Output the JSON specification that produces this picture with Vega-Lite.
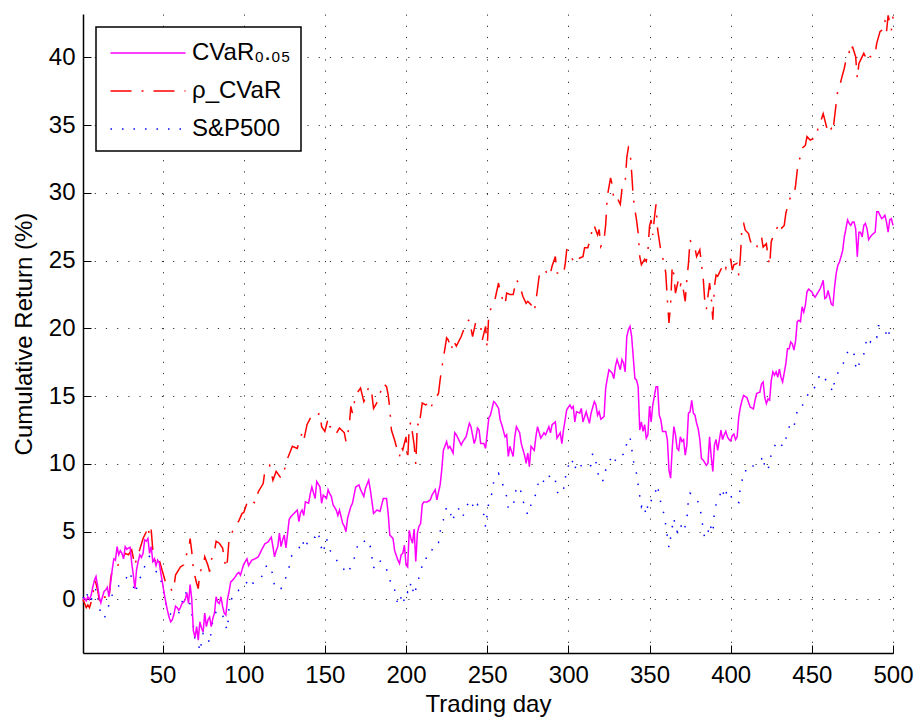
{
"$schema": "https://vega.github.io/schema/vega-lite/v6.json",
"width": 810, "height": 639,
"autosize": "none",
"padding": {"left": 83, "top": 14, "right": 27, "bottom": 69},
"background": "white",
"datasets": {
"cvar": [
{"d":1,"v":0},{"d":2,"v":0.1},{"d":3,"v":-0.1},{"d":4,"v":0.2},{"d":5,"v":0},{"d":6,"v":0.3},{"d":7,"v":0.9},{"d":8,"v":1.4},{"d":9,"v":1.7},{"d":10,"v":1.0},{"d":11,"v":0.2},{"d":12,"v":-0.25},{"d":13,"v":0.2},{"d":14,"v":0.6},{"d":15,"v":0.7},{"d":16,"v":0.9},{"d":17,"v":0.2},{"d":18,"v":1.2},{"d":19,"v":2.2},{"d":20,"v":3.0},{"d":21,"v":2.9},{"d":22,"v":3.9},{"d":23,"v":3.3},{"d":24,"v":3.6},{"d":25,"v":3.4},{"d":26,"v":3.0},{"d":27,"v":3.9},{"d":28,"v":3.7},{"d":29,"v":3.8},{"d":30,"v":3.85},{"d":31,"v":2.7},{"d":32,"v":1.8},{"d":33,"v":0.8},{"d":34,"v":2.2},{"d":35,"v":2.8},{"d":36,"v":3.3},{"d":37,"v":3.1},{"d":38,"v":3.4},{"d":39,"v":4.4},{"d":40,"v":4.3},{"d":41,"v":4.5},{"d":42,"v":3.4},{"d":43,"v":3.9},{"d":44,"v":2.8},{"d":45,"v":3.0},{"d":46,"v":2.5},{"d":47,"v":2.9},{"d":48,"v":2.7},{"d":49,"v":1.9},{"d":50,"v":1.2},{"d":51,"v":0.45},{"d":52,"v":-0.2},{"d":53,"v":-0.8},{"d":54,"v":-1.3},{"d":55,"v":-1.65},{"d":56,"v":-1.5},{"d":57,"v":-1.1},{"d":58,"v":-0.5},{"d":59,"v":-0.6},{"d":60,"v":-0.8},{"d":61,"v":-0.6},{"d":62,"v":-0.3},{"d":63,"v":-0.2},{"d":64,"v":0},{"d":65,"v":0.5},{"d":66,"v":-0.3},{"d":67,"v":1.1},{"d":68,"v":0},{"d":69,"v":-2.3},{"d":70,"v":-2.8},{"d":71,"v":-2.0},{"d":72,"v":-3.0},{"d":73,"v":-1.65},{"d":74,"v":-2.1},{"d":75,"v":-2.4},{"d":76,"v":-1.0},{"d":77,"v":-2.0},{"d":78,"v":-1.5},{"d":79,"v":-1.3},{"d":80,"v":-2.0},{"d":81,"v":-1.4},{"d":82,"v":-1.0},{"d":83,"v":0.2},{"d":84,"v":-0.2},{"d":85,"v":-0.3},{"d":86,"v":0.2},{"d":87,"v":-0.5},{"d":88,"v":-1.0},{"d":89,"v":-1.15},{"d":90,"v":0},{"d":91,"v":0.6},{"d":92,"v":1.3},{"d":93,"v":1.4},{"d":94,"v":1.55},{"d":95,"v":1.7},{"d":96,"v":1.9},{"d":97,"v":2.0},{"d":98,"v":1.8},{"d":99,"v":2.2},{"d":100,"v":2.6},{"d":101,"v":2.8},{"d":102,"v":3.0},{"d":103,"v":2.5},{"d":105,"v":2.9},{"d":107,"v":3.0},{"d":109,"v":3.15},{"d":111,"v":3.65},{"d":113,"v":4.1},{"d":115,"v":4.25},{"d":117,"v":4.6},{"d":118,"v":3.9},{"d":119,"v":3.15},{"d":120,"v":3.6},{"d":121,"v":3.9},{"d":122,"v":4.9},{"d":123,"v":3.9},{"d":124,"v":4.4},{"d":125,"v":4.75},{"d":126,"v":3.8},{"d":127,"v":4.8},{"d":128,"v":5.9},{"d":129,"v":6.1},{"d":131,"v":6.35},{"d":133,"v":6.6},{"d":134,"v":5.75},{"d":135,"v":6.4},{"d":136,"v":6.6},{"d":137,"v":6.2},{"d":138,"v":7.2},{"d":140,"v":7.1},{"d":141,"v":7.8},{"d":142,"v":8.3},{"d":144,"v":7.45},{"d":145,"v":8.7},{"d":146,"v":8.5},{"d":147,"v":8.3},{"d":148,"v":7.1},{"d":149,"v":7.7},{"d":151,"v":7.45},{"d":152,"v":8.1},{"d":153,"v":7.8},{"d":154,"v":7.6},{"d":155,"v":7.0},{"d":157,"v":6.6},{"d":158,"v":6.2},{"d":159,"v":6.6},{"d":161,"v":5.6},{"d":162,"v":5.4},{"d":163,"v":5.0},{"d":164,"v":6.0},{"d":166,"v":6.85},{"d":167,"v":7.1},{"d":169,"v":8.3},{"d":171,"v":8.45},{"d":172,"v":8.1},{"d":174,"v":7.6},{"d":175,"v":8.2},{"d":177,"v":8.8},{"d":178,"v":8.1},{"d":180,"v":6.35},{"d":182,"v":6.6},{"d":184,"v":6.5},{"d":186,"v":7.45},{"d":188,"v":7.45},{"d":189,"v":6.35},{"d":190,"v":4.75},{"d":192,"v":4.5},{"d":193,"v":3.6},{"d":195,"v":2.9},{"d":196,"v":2.65},{"d":197,"v":3.3},{"d":198,"v":3.4},{"d":199,"v":4.0},{"d":200,"v":2.55},{"d":201,"v":2.4},{"d":202,"v":5.1},{"d":203,"v":4.5},{"d":204,"v":4.15},{"d":205,"v":5.2},{"d":206,"v":2.8},{"d":207,"v":4.9},{"d":208,"v":5.4},{"d":209,"v":5.6},{"d":210,"v":7.0},{"d":211,"v":7.2},{"d":213,"v":7.2},{"d":215,"v":7.35},{"d":216,"v":7.7},{"d":218,"v":8.1},{"d":219,"v":7.35},{"d":221,"v":8.45},{"d":222,"v":9.55},{"d":223,"v":11.0},{"d":225,"v":11.65},{"d":226,"v":11.15},{"d":227,"v":11.3},{"d":229,"v":10.8},{"d":230,"v":12.3},{"d":231,"v":12.15},{"d":233,"v":11.65},{"d":234,"v":11.4},{"d":235,"v":11.65},{"d":237,"v":12.0},{"d":239,"v":13.0},{"d":240,"v":12.75},{"d":242,"v":11.5},{"d":243,"v":11.9},{"d":244,"v":12.65},{"d":245,"v":12.5},{"d":246,"v":11.5},{"d":248,"v":11.5},{"d":249,"v":11.15},{"d":251,"v":13.4},{"d":252,"v":13.6},{"d":254,"v":14.6},{"d":255,"v":14.5},{"d":257,"v":14.1},{"d":258,"v":13.25},{"d":259,"v":12.9},{"d":261,"v":12.0},{"d":262,"v":12.15},{"d":263,"v":10.55},{"d":264,"v":11.3},{"d":266,"v":10.55},{"d":267,"v":12.0},{"d":268,"v":12.75},{"d":270,"v":12.3},{"d":271,"v":11.5},{"d":273,"v":10.65},{"d":274,"v":10.05},{"d":275,"v":10.8},{"d":276,"v":9.8},{"d":277,"v":11.3},{"d":279,"v":11.0},{"d":280,"v":12.0},{"d":281,"v":12.75},{"d":283,"v":11.9},{"d":285,"v":12.3},{"d":286,"v":12.15},{"d":288,"v":12.75},{"d":289,"v":12.3},{"d":290,"v":12.9},{"d":292,"v":13.1},{"d":293,"v":11.9},{"d":295,"v":12.3},{"d":296,"v":11.5},{"d":297,"v":12.5},{"d":299,"v":14.0},{"d":301,"v":14.35},{"d":302,"v":14.1},{"d":303,"v":14.25},{"d":304,"v":13.1},{"d":305,"v":13.85},{"d":307,"v":13.75},{"d":308,"v":14.1},{"d":309,"v":13.1},{"d":311,"v":13.85},{"d":312,"v":13.4},{"d":313,"v":13.0},{"d":314,"v":13.75},{"d":316,"v":14.6},{"d":317,"v":14.35},{"d":318,"v":13.6},{"d":319,"v":13.85},{"d":320,"v":13.3},{"d":322,"v":13.5},{"d":323,"v":15.6},{"d":324,"v":16.3},{"d":325,"v":16.95},{"d":327,"v":16.7},{"d":328,"v":16.3},{"d":329,"v":17.2},{"d":330,"v":17.7},{"d":332,"v":16.95},{"d":333,"v":17.7},{"d":334,"v":17.45},{"d":335,"v":16.8},{"d":336,"v":19.4},{"d":337,"v":19.9},{"d":338,"v":20.15},{"d":339,"v":19.4},{"d":341,"v":16.3},{"d":342,"v":16.2},{"d":343,"v":15.7},{"d":344,"v":12.5},{"d":345,"v":13.1},{"d":346,"v":12.4},{"d":347,"v":12.9},{"d":348,"v":11.9},{"d":349,"v":12.15},{"d":350,"v":14.25},{"d":351,"v":13.1},{"d":352,"v":14.35},{"d":353,"v":15.0},{"d":354,"v":15.7},{"d":355,"v":15.7},{"d":356,"v":13.6},{"d":357,"v":13.25},{"d":358,"v":12.4},{"d":360,"v":12.4},{"d":361,"v":11.8},{"d":362,"v":9.55},{"d":363,"v":8.95},{"d":364,"v":11.15},{"d":365,"v":12.75},{"d":366,"v":12.15},{"d":367,"v":11.15},{"d":368,"v":11.0},{"d":369,"v":12.0},{"d":370,"v":11.65},{"d":371,"v":11.8},{"d":372,"v":10.65},{"d":373,"v":11.4},{"d":374,"v":13.75},{"d":375,"v":13.85},{"d":376,"v":14.7},{"d":377,"v":13.75},{"d":378,"v":13.6},{"d":379,"v":13.0},{"d":380,"v":12.6},{"d":381,"v":11.8},{"d":382,"v":10.4},{"d":383,"v":10.3},{"d":385,"v":9.9},{"d":386,"v":10.05},{"d":387,"v":12.0},{"d":388,"v":10.55},{"d":389,"v":9.45},{"d":390,"v":11.4},{"d":391,"v":11.8},{"d":392,"v":11.0},{"d":394,"v":12.5},{"d":395,"v":11.8},{"d":396,"v":12.15},{"d":397,"v":12.4},{"d":398,"v":12.0},{"d":399,"v":11.8},{"d":400,"v":11.7},{"d":401,"v":12.1},{"d":402,"v":12.2},{"d":403,"v":11.8},{"d":404,"v":12.0},{"d":405,"v":13.5},{"d":406,"v":14.2},{"d":407,"v":14.7},{"d":408,"v":15.05},{"d":410,"v":14.9},{"d":411,"v":14.55},{"d":412,"v":14.2},{"d":414,"v":14.05},{"d":415,"v":14.7},{"d":416,"v":15.2},{"d":418,"v":15.3},{"d":419,"v":15.9},{"d":420,"v":16.05},{"d":421,"v":14.9},{"d":422,"v":14.45},{"d":423,"v":14.8},{"d":424,"v":14.7},{"d":425,"v":16.15},{"d":426,"v":16.8},{"d":427,"v":16.55},{"d":428,"v":16.8},{"d":429,"v":16.4},{"d":430,"v":17.0},{"d":431,"v":16.4},{"d":432,"v":16.05},{"d":434,"v":17.4},{"d":435,"v":18.5},{"d":436,"v":18.5},{"d":437,"v":19.0},{"d":438,"v":18.85},{"d":439,"v":18.4},{"d":440,"v":19.1},{"d":441,"v":20.5},{"d":442,"v":20.6},{"d":443,"v":20.5},{"d":444,"v":21.6},{"d":445,"v":21.2},{"d":446,"v":21.7},{"d":447,"v":22.7},{"d":448,"v":22.9},{"d":449,"v":22.8},{"d":450,"v":22.7},{"d":451,"v":22.45},{"d":452,"v":22.3},{"d":453,"v":22.5},{"d":454,"v":22.7},{"d":455,"v":22.9},{"d":456,"v":23.2},{"d":457,"v":23.55},{"d":458,"v":22.2},{"d":459,"v":22.3},{"d":460,"v":22.8},{"d":461,"v":22.3},{"d":462,"v":21.8},{"d":463,"v":21.7},{"d":464,"v":23.05},{"d":465,"v":24.05},{"d":466,"v":24.65},{"d":467,"v":24.9},{"d":468,"v":25.3},{"d":469,"v":25.75},{"d":470,"v":26.75},{"d":471,"v":27.35},{"d":472,"v":28.0},{"d":473,"v":27.75},{"d":474,"v":27.6},{"d":475,"v":27.85},{"d":476,"v":27.85},{"d":477,"v":27.35},{"d":478,"v":25.3},{"d":479,"v":27.1},{"d":480,"v":27.1},{"d":481,"v":26.75},{"d":482,"v":27.6},{"d":483,"v":27.75},{"d":484,"v":27.35},{"d":485,"v":26.55},{"d":486,"v":26.75},{"d":487,"v":26.9},{"d":488,"v":27.0},{"d":489,"v":27.1},{"d":490,"v":28.6},{"d":491,"v":28.6},{"d":492,"v":28.35},{"d":493,"v":28.1},{"d":494,"v":28.2},{"d":495,"v":28.35},{"d":496,"v":27.85},{"d":497,"v":27.1},{"d":498,"v":28.0},{"d":499,"v":28.1},{"d":500,"v":27.6}
],
"rho": [
{"d":1,"v":0},{"d":2,"v":-0.3},{"d":3,"v":-0.6},{"d":4,"v":-0.4},{"d":5,"v":-0.6},{"d":6,"v":-0.2},{"d":7,"v":0.2},{"d":8,"v":1.4},{"d":9,"v":1.2},{"d":10,"v":0.7},{"d":11,"v":0},{"d":12,"v":-0.3},{"d":13,"v":0.1},{"d":15,"v":0.2},{"d":17,"v":0},{"d":18,"v":1.5},{"d":19,"v":2.2},{"d":21,"v":2.3},{"d":23,"v":2.6},{"d":25,"v":2.9},{"d":27,"v":3.4},{"d":29,"v":3.3},{"d":31,"v":3.65},{"d":33,"v":2.5},{"d":34,"v":3.05},{"d":36,"v":3.7},{"d":38,"v":4.5},{"d":40,"v":5.0},{"d":41,"v":5.4},{"d":42,"v":4.65},{"d":43,"v":5.15},{"d":44,"v":3.65},{"d":46,"v":2.55},{"d":48,"v":2.9},{"d":50,"v":2.05},{"d":52,"v":1.2},{"d":54,"v":1.05},{"d":56,"v":0.6},{"d":57,"v":0.9},{"d":58,"v":1.8},{"d":60,"v":2.2},{"d":61,"v":2.4},{"d":63,"v":2.55},{"d":64,"v":3.15},{"d":66,"v":3.6},{"d":67,"v":4.5},{"d":68,"v":3.55},{"d":69,"v":2.2},{"d":71,"v":1.2},{"d":72,"v":0.8},{"d":73,"v":2.05},{"d":75,"v":2.4},{"d":76,"v":3.15},{"d":78,"v":2.5},{"d":79,"v":2.05},{"d":80,"v":2.9},{"d":82,"v":3.55},{"d":83,"v":4.3},{"d":85,"v":4.15},{"d":87,"v":3.8},{"d":89,"v":2.3},{"d":90,"v":2.9},{"d":91,"v":4.5},{"d":93,"v":5.0},{"d":95,"v":5.5},{"d":97,"v":5.8},{"d":99,"v":6.35},{"d":100,"v":6.4},{"d":102,"v":7.1},{"d":104,"v":7.4},{"d":106,"v":7.2},{"d":107,"v":7.1},{"d":109,"v":7.95},{"d":112,"v":8.55},{"d":113,"v":9.45},{"d":116,"v":9.9},{"d":118,"v":8.8},{"d":120,"v":9.45},{"d":123,"v":8.95},{"d":125,"v":9.55},{"d":127,"v":10.4},{"d":130,"v":11.3},{"d":133,"v":11.15},{"d":135,"v":12.0},{"d":136,"v":12.25},{"d":137,"v":11.75},{"d":139,"v":12.9},{"d":142,"v":13.6},{"d":144,"v":13.5},{"d":147,"v":13.75},{"d":148,"v":12.75},{"d":150,"v":12.4},{"d":152,"v":13.35},{"d":153,"v":12.75},{"d":156,"v":12.65},{"d":157,"v":12.25},{"d":159,"v":12.65},{"d":162,"v":12.3},{"d":163,"v":11.65},{"d":165,"v":12.75},{"d":166,"v":14.25},{"d":167,"v":13.75},{"d":169,"v":15.1},{"d":172,"v":15.6},{"d":174,"v":14.6},{"d":175,"v":14.85},{"d":177,"v":15.7},{"d":179,"v":15.1},{"d":180,"v":14.1},{"d":182,"v":14.5},{"d":184,"v":15.2},{"d":186,"v":15.95},{"d":188,"v":15.7},{"d":189,"v":15.1},{"d":190,"v":14.1},{"d":191,"v":12.5},{"d":193,"v":11.75},{"d":194,"v":11.3},{"d":196,"v":10.55},{"d":197,"v":11.3},{"d":198,"v":11.05},{"d":200,"v":12.0},{"d":201,"v":10.3},{"d":202,"v":12.75},{"d":203,"v":13.1},{"d":204,"v":12.25},{"d":205,"v":11.4},{"d":206,"v":10.0},{"d":207,"v":13.0},{"d":208,"v":12.75},{"d":210,"v":14.5},{"d":212,"v":14.35},{"d":214,"v":14.5},{"d":215,"v":14.1},{"d":217,"v":14.6},{"d":220,"v":15.2},{"d":221,"v":16.2},{"d":223,"v":17.8},{"d":225,"v":19.3},{"d":226,"v":19.15},{"d":228,"v":18.4},{"d":229,"v":19.15},{"d":231,"v":18.7},{"d":234,"v":19.4},{"d":237,"v":20.4},{"d":239,"v":20.65},{"d":241,"v":19.4},{"d":243,"v":20.5},{"d":246,"v":20.15},{"d":247,"v":19.15},{"d":249,"v":20.15},{"d":250,"v":18.55},{"d":251,"v":21.15},{"d":253,"v":21.6},{"d":255,"v":22.25},{"d":257,"v":23.35},{"d":258,"v":22.6},{"d":261,"v":21.75},{"d":262,"v":22.6},{"d":264,"v":22.5},{"d":266,"v":22.5},{"d":268,"v":23.6},{"d":270,"v":23.2},{"d":272,"v":22.35},{"d":274,"v":21.85},{"d":275,"v":22.0},{"d":277,"v":21.75},{"d":279,"v":21.25},{"d":280,"v":22.0},{"d":282,"v":23.85},{"d":284,"v":24.1},{"d":286,"v":24.35},{"d":287,"v":23.85},{"d":289,"v":24.1},{"d":290,"v":24.6},{"d":292,"v":25.3},{"d":293,"v":24.1},{"d":295,"v":24.0},{"d":297,"v":24.0},{"d":298,"v":24.7},{"d":299,"v":25.8},{"d":301,"v":25.7},{"d":302,"v":25.2},{"d":304,"v":24.8},{"d":305,"v":24.95},{"d":307,"v":25.2},{"d":309,"v":25.3},{"d":310,"v":25.95},{"d":312,"v":25.95},{"d":314,"v":26.8},{"d":315,"v":27.65},{"d":316,"v":27.55},{"d":318,"v":26.9},{"d":319,"v":27.3},{"d":320,"v":26.05},{"d":322,"v":26.55},{"d":323,"v":27.65},{"d":324,"v":29.75},{"d":326,"v":31.1},{"d":327,"v":30.6},{"d":328,"v":29.5},{"d":330,"v":29.65},{"d":332,"v":29.15},{"d":333,"v":30.25},{"d":335,"v":30.75},{"d":336,"v":32.6},{"d":337,"v":33.35},{"d":338,"v":33.1},{"d":339,"v":31.5},{"d":340,"v":29.65},{"d":341,"v":28.75},{"d":342,"v":28.0},{"d":343,"v":27.05},{"d":344,"v":25.3},{"d":345,"v":24.7},{"d":347,"v":25.1},{"d":348,"v":24.95},{"d":349,"v":25.7},{"d":350,"v":27.55},{"d":351,"v":28.0},{"d":352,"v":26.9},{"d":353,"v":28.15},{"d":354,"v":29.15},{"d":355,"v":27.3},{"d":357,"v":25.7},{"d":359,"v":24.8},{"d":360,"v":24.1},{"d":361,"v":22.1},{"d":362,"v":20.4},{"d":363,"v":21.75},{"d":364,"v":24.6},{"d":365,"v":23.95},{"d":366,"v":22.6},{"d":368,"v":23.7},{"d":369,"v":23.2},{"d":370,"v":23.45},{"d":372,"v":22.0},{"d":373,"v":23.6},{"d":374,"v":24.8},{"d":375,"v":26.55},{"d":376,"v":26.2},{"d":378,"v":25.95},{"d":379,"v":25.3},{"d":381,"v":25.8},{"d":382,"v":24.7},{"d":383,"v":23.85},{"d":384,"v":22.1},{"d":385,"v":21.4},{"d":387,"v":23.35},{"d":388,"v":22.35},{"d":389,"v":20.65},{"d":390,"v":23.1},{"d":391,"v":23.95},{"d":392,"v":23.85},{"d":393,"v":24.1},{"d":395,"v":24.6},{"d":396,"v":24.8},{"d":397,"v":24.45},{"d":398,"v":25.1},{"d":400,"v":25.1},{"d":401,"v":24.3},{"d":402,"v":24.7},{"d":404,"v":24.8},{"d":405,"v":23.9},{"d":406,"v":25.3},{"d":407,"v":27.6},{"d":408,"v":27.75},{"d":409,"v":27.25},{"d":411,"v":27.0},{"d":412,"v":26.5},{"d":414,"v":25.9},{"d":416,"v":26.0},{"d":419,"v":26.75},{"d":420,"v":26.0},{"d":422,"v":26.25},{"d":423,"v":25.3},{"d":424,"v":24.65},{"d":425,"v":26.4},{"d":427,"v":27.1},{"d":429,"v":27.5},{"d":430,"v":27.1},{"d":431,"v":27.35},{"d":433,"v":27.6},{"d":434,"v":28.5},{"d":436,"v":29.45},{"d":437,"v":29.7},{"d":439,"v":29.8},{"d":440,"v":30.55},{"d":441,"v":31.65},{"d":442,"v":32.4},{"d":443,"v":32.65},{"d":444,"v":33.3},{"d":446,"v":33.5},{"d":447,"v":34.15},{"d":449,"v":33.9},{"d":451,"v":34.0},{"d":453,"v":34.15},{"d":454,"v":35.0},{"d":455,"v":35.1},{"d":457,"v":35.85},{"d":459,"v":34.9},{"d":460,"v":34.4},{"d":462,"v":34.75},{"d":463,"v":34.5},{"d":464,"v":35.6},{"d":465,"v":36.6},{"d":466,"v":37.6},{"d":467,"v":37.8},{"d":468,"v":38.3},{"d":470,"v":39.2},{"d":471,"v":39.8},{"d":473,"v":40.4},{"d":474,"v":40.15},{"d":475,"v":40.8},{"d":477,"v":40.05},{"d":478,"v":38.45},{"d":479,"v":39.55},{"d":480,"v":39.8},{"d":482,"v":40.3},{"d":483,"v":40.05},{"d":484,"v":40.4},{"d":486,"v":40.05},{"d":488,"v":40.05},{"d":489,"v":40.3},{"d":490,"v":41.05},{"d":492,"v":41.9},{"d":493,"v":42.0},{"d":495,"v":42.75},{"d":496,"v":41.9},{"d":497,"v":43.1},{"d":499,"v":42.0},{"d":500,"v":43.0}
],
"sp": [
{"d":1,"v":0.1},{"d":2,"v":0.3},{"d":3,"v":0},{"d":4,"v":0.55},{"d":5,"v":0.1},{"d":7,"v":0},{"d":9,"v":0.8},{"d":11,"v":-0.4},{"d":12,"v":-1.15},{"d":14,"v":-1.4},{"d":16,"v":-0.9},{"d":18,"v":0.2},{"d":21,"v":0.55},{"d":23,"v":1.0},{"d":25,"v":1.2},{"d":27,"v":1.45},{"d":30,"v":2.05},{"d":33,"v":0.45},{"d":35,"v":1.2},{"d":38,"v":2.15},{"d":41,"v":3.0},{"d":43,"v":3.4},{"d":44,"v":3.0},{"d":45,"v":2.15},{"d":48,"v":1.9},{"d":50,"v":0.95},{"d":52,"v":-0.3},{"d":54,"v":-1.0},{"d":56,"v":-1.15},{"d":58,"v":-1.3},{"d":60,"v":-1.0},{"d":62,"v":-0.2},{"d":63,"v":0},{"d":64,"v":0.55},{"d":66,"v":0.2},{"d":68,"v":-1.0},{"d":70,"v":-3.0},{"d":72,"v":-3.1},{"d":73,"v":-3.85},{"d":75,"v":-2.5},{"d":77,"v":-2.5},{"d":79,"v":-3.25},{"d":81,"v":-1.5},{"d":83,"v":-0.9},{"d":85,"v":-0.8},{"d":87,"v":-1.15},{"d":89,"v":-2.0},{"d":90,"v":-2.25},{"d":91,"v":-0.55},{"d":93,"v":0.2},{"d":95,"v":0.3},{"d":97,"v":0.7},{"d":99,"v":0.8},{"d":101,"v":1.05},{"d":103,"v":1.55},{"d":104,"v":1.3},{"d":106,"v":1.2},{"d":108,"v":1.45},{"d":111,"v":1.65},{"d":113,"v":2.4},{"d":116,"v":2.55},{"d":118,"v":1.8},{"d":119,"v":0.95},{"d":121,"v":1.05},{"d":123,"v":0.8},{"d":125,"v":1.2},{"d":126,"v":1.65},{"d":128,"v":2.4},{"d":129,"v":3.15},{"d":132,"v":3.5},{"d":134,"v":3.75},{"d":136,"v":4.4},{"d":138,"v":3.75},{"d":140,"v":4.5},{"d":142,"v":4.6},{"d":144,"v":4.6},{"d":146,"v":5.0},{"d":147,"v":4.15},{"d":149,"v":3.4},{"d":150,"v":4.0},{"d":151,"v":4.5},{"d":153,"v":3.65},{"d":156,"v":3.15},{"d":159,"v":2.55},{"d":161,"v":2.4},{"d":163,"v":1.9},{"d":165,"v":2.15},{"d":168,"v":3.0},{"d":170,"v":3.9},{"d":172,"v":4.25},{"d":174,"v":4.4},{"d":176,"v":3.75},{"d":178,"v":3.9},{"d":180,"v":2.3},{"d":182,"v":2.9},{"d":185,"v":2.8},{"d":187,"v":2.55},{"d":190,"v":1.55},{"d":191,"v":0.8},{"d":193,"v":0.7},{"d":194,"v":-0.05},{"d":196,"v":-0.4},{"d":197,"v":0.2},{"d":198,"v":-0.3},{"d":199,"v":0.05},{"d":200,"v":-0.05},{"d":201,"v":0.55},{"d":202,"v":0.45},{"d":203,"v":1.3},{"d":205,"v":0.3},{"d":207,"v":1.2},{"d":209,"v":2.05},{"d":211,"v":3.05},{"d":214,"v":3.05},{"d":216,"v":3.65},{"d":218,"v":4.2},{"d":220,"v":4.2},{"d":221,"v":5.0},{"d":223,"v":5.85},{"d":224,"v":6.6},{"d":226,"v":6.85},{"d":228,"v":6.1},{"d":229,"v":5.75},{"d":230,"v":6.6},{"d":233,"v":6.7},{"d":235,"v":6.1},{"d":237,"v":6.85},{"d":240,"v":7.35},{"d":242,"v":6.6},{"d":244,"v":7.0},{"d":246,"v":6.6},{"d":248,"v":6.25},{"d":249,"v":5.35},{"d":251,"v":7.2},{"d":253,"v":7.85},{"d":254,"v":8.7},{"d":257,"v":9.3},{"d":259,"v":8.7},{"d":261,"v":7.95},{"d":262,"v":7.6},{"d":263,"v":6.7},{"d":266,"v":6.85},{"d":268,"v":8.3},{"d":270,"v":8.3},{"d":271,"v":7.85},{"d":273,"v":6.85},{"d":275,"v":6.25},{"d":276,"v":6.6},{"d":277,"v":7.0},{"d":279,"v":7.2},{"d":280,"v":7.95},{"d":282,"v":8.8},{"d":284,"v":8.55},{"d":286,"v":9.05},{"d":288,"v":9.25},{"d":289,"v":8.7},{"d":292,"v":8.8},{"d":293,"v":7.95},{"d":295,"v":7.7},{"d":297,"v":8.1},{"d":298,"v":8.8},{"d":299,"v":9.7},{"d":301,"v":10.0},{"d":302,"v":10.4},{"d":304,"v":9.55},{"d":305,"v":10.1},{"d":306,"v":10.15},{"d":309,"v":9.7},{"d":312,"v":9.7},{"d":314,"v":9.9},{"d":315,"v":10.8},{"d":317,"v":10.15},{"d":318,"v":9.55},{"d":319,"v":8.7},{"d":322,"v":8.8},{"d":323,"v":9.55},{"d":325,"v":10.15},{"d":327,"v":10.55},{"d":328,"v":10.15},{"d":331,"v":10.55},{"d":333,"v":10.8},{"d":334,"v":10.65},{"d":336,"v":11.5},{"d":337,"v":11.9},{"d":338,"v":12.0},{"d":340,"v":10.3},{"d":341,"v":9.55},{"d":342,"v":9.3},{"d":343,"v":8.45},{"d":344,"v":7.6},{"d":345,"v":6.85},{"d":346,"v":7.1},{"d":348,"v":6.25},{"d":349,"v":7.0},{"d":350,"v":6.85},{"d":352,"v":7.7},{"d":353,"v":7.7},{"d":355,"v":8.45},{"d":356,"v":7.6},{"d":358,"v":6.7},{"d":359,"v":6.25},{"d":360,"v":5.5},{"d":361,"v":4.65},{"d":362,"v":3.8},{"d":364,"v":5.35},{"d":365,"v":6.0},{"d":366,"v":5.25},{"d":367,"v":5.0},{"d":368,"v":5.6},{"d":370,"v":5.35},{"d":371,"v":5.0},{"d":373,"v":5.85},{"d":374,"v":7.45},{"d":375,"v":7.85},{"d":377,"v":7.6},{"d":378,"v":7.35},{"d":380,"v":7.2},{"d":381,"v":6.85},{"d":382,"v":6.1},{"d":383,"v":5.25},{"d":384,"v":4.5},{"d":386,"v":4.9},{"d":387,"v":5.6},{"d":388,"v":5.25},{"d":389,"v":4.9},{"d":390,"v":6.5},{"d":391,"v":7.0},{"d":392,"v":7.1},{"d":394,"v":7.95},{"d":395,"v":8.2},{"d":396,"v":7.45},{"d":398,"v":8.1},{"d":399,"v":7.95},{"d":401,"v":7.4},{"d":402,"v":7.2},{"d":403,"v":7.3},{"d":405,"v":7.15},{"d":406,"v":8.4},{"d":407,"v":8.75},{"d":408,"v":9.5},{"d":410,"v":9.5},{"d":412,"v":9.4},{"d":414,"v":9.9},{"d":416,"v":10.0},{"d":419,"v":10.35},{"d":420,"v":10.6},{"d":421,"v":9.75},{"d":423,"v":9.5},{"d":424,"v":10.25},{"d":426,"v":11.1},{"d":428,"v":11.5},{"d":430,"v":11.7},{"d":432,"v":11.25},{"d":434,"v":11.85},{"d":435,"v":12.45},{"d":437,"v":12.95},{"d":439,"v":12.7},{"d":440,"v":13.45},{"d":442,"v":14.3},{"d":444,"v":14.3},{"d":446,"v":14.55},{"d":448,"v":15.3},{"d":450,"v":15.3},{"d":453,"v":15.9},{"d":455,"v":16.65},{"d":458,"v":16.3},{"d":461,"v":15.8},{"d":463,"v":15.3},{"d":464,"v":16.15},{"d":465,"v":16.5},{"d":467,"v":16.9},{"d":469,"v":17.25},{"d":471,"v":18.1},{"d":474,"v":18.5},{"d":476,"v":18.1},{"d":477,"v":17.25},{"d":478,"v":16.9},{"d":480,"v":17.75},{"d":482,"v":18.1},{"d":484,"v":19.35},{"d":486,"v":19.0},{"d":488,"v":19.5},{"d":490,"v":19.35},{"d":491,"v":20.2},{"d":493,"v":20.2},{"d":495,"v":19.85},{"d":497,"v":19.25},{"d":498,"v":20.0},{"d":500,"v":20.2}
]
},
"layer": [
{"data": {"name": "sp"}, "mark": {"type": "line", "strokeWidth": 1.5},
 "encoding": {
  "x": {"field": "d", "type": "quantitative"},
  "y": {"field": "v", "type": "quantitative"},
  "color": {"datum": "S&P500"},
  "strokeDash": {"datum": "S&P500"}
 }},
{"data": {"name": "rho"}, "mark": {"type": "line", "strokeWidth": 1.5},
 "encoding": {
  "x": {"field": "d", "type": "quantitative"},
  "y": {"field": "v", "type": "quantitative"},
  "color": {"datum": "ρ_CVaR"},
  "strokeDash": {"datum": "ρ_CVaR"}
 }},
{"data": {"name": "cvar"}, "mark": {"type": "line", "strokeWidth": 1.5},
 "encoding": {
  "x": {"field": "d", "type": "quantitative", "title": "Trading day",
        "scale": {"domain": [1, 500], "nice": false, "zero": false},
        "axis": {"values": [50,100,150,200,250,300,350,400,450,500], "labelPadding": 18, "titlePadding": 5, "labelFlush": false, "labelOverlap": false, "labelBound": false}},
  "y": {"field": "v", "type": "quantitative", "title": "Cumulative Return (%)",
        "scale": {"domain": [-3.95, 43.2], "nice": false, "zero": false},
        "axis": {"values": [0,5,10,15,20,25,30,35,40], "labelPadding": 16, "titlePadding": 12}},
  "color": {"datum": "CVaR₀.₀₅", "type": "nominal",
            "scale": {"domain": ["CVaR₀.₀₅", "ρ_CVaR", "S&P500"], "range": ["#ff00ff", "#ff0000", "#0000ff"]},
            "legend": {"title": null}},
  "strokeDash": {"datum": "CVaR₀.₀₅", "type": "nominal",
            "scale": {"domain": ["CVaR₀.₀₅", "ρ_CVaR", "S&P500"], "range": [[1,0],[21,10,2,10],[1.5,10]]},
            "legend": {"title": null}}
 }}
],
"config": {
 "view": {"stroke": null},
 "font": "Liberation Sans",
 "axis": {"domainColor": "#000", "domainWidth": 1.5, "tickColor": "#000", "tickSize": -8, "tickWidth": 1,
          "labelFont": "Liberation Sans", "labelFontSize": 24, "labelColor": "#000",
          "titleFont": "Liberation Sans", "titleFontSize": 24, "titleFontWeight": "normal", "titleColor": "#000",
          "grid": true, "gridColor": "#000", "gridDash": [1.2, 10], "gridOpacity": 0.8, "gridWidth": 1},
 "legend": {"orient": "none", "legendX": 13, "legendY": 13, "symbolType": "M-2.5,0H2.5", "symbolSize": 900,
            "symbolOffset": 26, "symbolStrokeWidth": 1.5, "labelFont": "Liberation Sans", "labelFontSize": 24, "labelColor": "#000",
            "labelOffset": 28, "rowPadding": 10, "padding": 10, "strokeColor": "#000", "strokeWidth": 1.5,
            "fillColor": "#fff", "cornerRadius": 0}
}
}
